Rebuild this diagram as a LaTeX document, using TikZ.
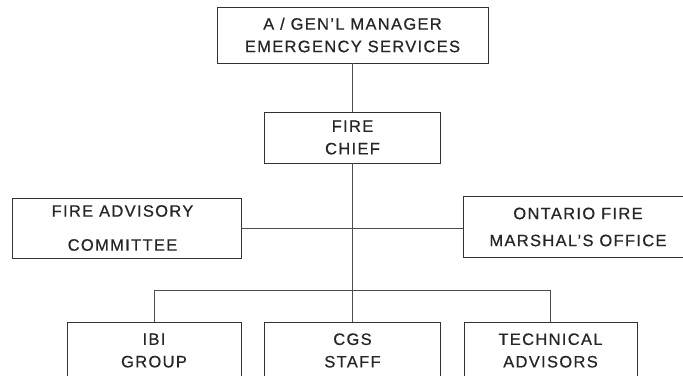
\documentclass[tikz,border=0pt]{standalone}
\usepackage{fontspec}
\setmainfont{Liberation Sans}[LetterSpace=8, FakeBold=0.6]
\begin{document}
\begin{tikzpicture}[x=1pt,y=-1pt,
  orgbox/.style={draw=black!80, line width=0.7pt, rectangle, inner sep=0pt, align=center,
     text=black!85, font=\fontsize{16.5}{22.5}\selectfont},
  link/.style={draw=black!70, line width=0.6pt}]
\useasboundingbox (0,0) rectangle (683,375);
\clip (0,0) rectangle (683,375);
\node[orgbox, minimum width=271pt, minimum height=56pt] (gm) at (352.5,35) {A / GEN'L MANAGER\\EMERGENCY SERVICES};
\node[orgbox, minimum width=176pt, minimum height=51pt] (chief) at (352.5,137.5) {FIRE\\CHIEF};
\node[orgbox, minimum width=229pt, minimum height=60pt, font=\fontsize{16.5}{34}\selectfont] (adv) at (126.5,228) {FIRE ADVISORY\hspace*{8pt}\\COMMITTEE\hspace*{8pt}};
\node[orgbox, minimum width=230pt, minimum height=61pt, font=\fontsize{16.5}{27}\selectfont] (ofm) at (578,227) {ONTARIO FIRE\\MARSHAL'S OFFICE};
\node[orgbox, minimum width=174pt, minimum height=57pt] (ibi) at (154,350.5) {IBI\\GROUP};
\node[orgbox, minimum width=176pt, minimum height=57pt] (cgs) at (352.5,350.5) {CGS\\STAFF};
\node[orgbox, minimum width=173pt, minimum height=57pt] (tech) at (550.5,350.5) {TECHNICAL\\ADVISORS};
\coordinate (bus) at (352.5,290);
\draw[link] (gm.south) -- (chief.north);
\draw[link] (chief.south) -- (bus) -- (cgs.north);
\draw[link] (adv.east) -- (ofm.west |- adv.east);
\draw[link] (ibi.north) -- (ibi.north |- bus) -- (tech.north |- bus) -- (tech.north);
\end{tikzpicture}
\end{document}
